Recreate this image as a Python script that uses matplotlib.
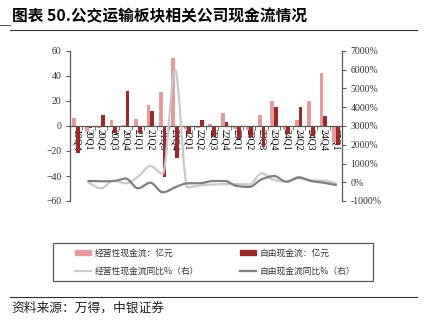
import numpy as np
import matplotlib
matplotlib.use("Agg")
import matplotlib.pyplot as plt
from matplotlib.lines import Line2D
from matplotlib.patches import Patch, Rectangle

plt.rcParams["font.family"] = ["Noto Sans CJK SC", "DejaVu Sans"]

# quarters
quarters = ["19Q4", "20Q1", "20Q2", "20Q3", "20Q4", "21Q1", "21Q2", "21Q3",
            "21Q4", "22Q1", "22Q2", "22Q3", "22Q4", "23Q1", "23Q2", "23Q3",
            "23Q4", "24Q1", "24Q2", "24Q3", "24Q4", "25Q1"]

# cash flow, 亿元
op_cf = [6.5, -5, -1.5, 4.5, 0.5, 5.5, 17, 27.5, 54.5, -2.5, -2, 1.5,
         10, -2.5, -3.5, 9, 20, -3, 4.5, 20, 42, -13]
free_cf = [-22, -1.5, 8.5, -6, 28, -6, 12, -40.5, -25.5, -6.5, 4.8, -9,
           3, -10.5, -8.5, -16.5, 15, -6.5, 15.5, -8, 8.3, -15]

# yoy %, from 20Q1
yoy_quarters = quarters[1:]
op_yoy = [-24, -325, 85, -57, 297, 867, 450, 6000, -270, -170, -120, -100,
          -100, -120, 475, 120, 30, 210, 85, 85, -57]
free_yoy = [67, 50, 60, 200, -325, -24, -537, -270, -57, -57, 67, 67,
            -200, -250, 157, 333, 30, 263, 67, -24, -147]

PINK = "#E39B9B"
DARK = "#9A2A2A"
LGRAY = "#C9C9C9"
DGRAY = "#7F7F7F"
SERIF = "Liberation Serif"


def smooth(x, y, n=24):
    # monotone cubic through the points, only for drawing a smooth line
    x = np.asarray(x, float)
    y = np.asarray(y, float)
    h = np.diff(x)
    d = np.diff(y) / h
    m = np.zeros_like(y)
    m[0], m[-1] = d[0], d[-1]
    for k in range(1, len(y) - 1):
        if d[k - 1] * d[k] > 0:
            w1 = 2 * h[k] + h[k - 1]
            w2 = h[k] + 2 * h[k - 1]
            m[k] = (w1 + w2) / (w1 / d[k - 1] + w2 / d[k])
    xs, ys = [], []
    t = np.linspace(0, 1, n)
    for i in range(len(x) - 1):
        h00 = 2 * t ** 3 - 3 * t ** 2 + 1
        h10 = t ** 3 - 2 * t ** 2 + t
        h01 = -2 * t ** 3 + 3 * t ** 2
        h11 = t ** 3 - t ** 2
        xs.extend(x[i] + t * h[i])
        ys.extend(h00 * y[i] + h10 * h[i] * m[i] + h01 * y[i + 1] + h11 * h[i] * m[i + 1])
    return np.array(xs), np.array(ys)


fig = plt.figure(figsize=(4.27, 3.35), dpi=100)
ax = fig.add_axes([70 / 427, 1 - 201 / 335, 272 / 427, 150 / 335])
ax2 = ax.twinx()

x = np.arange(len(quarters))
w = 0.3
ax.bar(x - w / 2, op_cf, width=w, color=PINK, zorder=2)
ax.bar(x + w / 2, free_cf, width=w, color=DARK, zorder=2)

xl = np.arange(1, len(quarters))
sx, sy = smooth(xl, op_yoy)
ax2.plot(sx, sy, color=LGRAY, lw=1.6)
sx, sy = smooth(xl, free_yoy)
ax2.plot(sx, sy, color=DGRAY, lw=1.6)

ax.set_xlim(-0.5, len(quarters) - 0.5)
ax.set_ylim(-60, 60)
ax.set_yticks(range(-60, 61, 20))
ax2.set_ylim(-1000, 7000)
ax2.set_yticks(range(-1000, 7001, 1000))
ax2.set_yticklabels([f"{v}%" for v in range(-1000, 7001, 1000)])

ax.spines["top"].set_visible(False)
ax2.spines["top"].set_visible(False)
ax2.spines["bottom"].set_visible(False)
ax2.spines["left"].set_visible(False)
ax.spines["right"].set_visible(False)
ax.spines["bottom"].set_position(("data", 0))
for sp in [ax.spines["left"], ax.spines["bottom"], ax2.spines["right"]]:
    sp.set_color("#595959")
    sp.set_linewidth(0.9)

ax.set_xticks(x)
ax.set_xticklabels(quarters, rotation=270, fontfamily=SERIF, fontsize=7)
ax.set_xticks(np.arange(-0.5, len(quarters), 1), minor=True)
ax.tick_params(axis="x", which="major", length=0, pad=2)
ax.tick_params(axis="x", which="minor", length=3, direction="out", color="#595959")
ax.tick_params(axis="y", length=3, color="#595959", labelsize=7, pad=3)
ax2.tick_params(axis="y", length=3, color="#595959", labelsize=7, pad=3)
for lab in ax.get_yticklabels() + ax2.get_yticklabels():
    lab.set_fontfamily(SERIF)
    lab.set_color("#333333")

handles = [
    Patch(color=PINK, label="经营性现金流：亿元"),
    Line2D([], [], color=LGRAY, lw=1.6, label="经营性现金流同比%（右）"),
    Patch(color=DARK, label="自由现金流：亿元"),
    Line2D([], [], color=DGRAY, lw=1.6, label="自由现金流同比%（右）"),
]
leg = fig.legend(handles=handles, ncol=2, loc="center left",
                 bbox_to_anchor=(75 / 427, 1 - 262.5 / 335),
                 fontsize=6.3, frameon=False, handlelength=1.85,
                 handleheight=0.45, handletextpad=0.45, borderpad=0,
                 labelspacing=1.05, columnspacing=4.6, borderaxespad=0)
for t in leg.get_texts():
    t.set_color("#333333")
fig.add_artist(Rectangle((53 / 427, 1 - 281 / 335), 320 / 427, 38 / 335,
                         transform=fig.transFigure, fill=False,
                         edgecolor="#595959", lw=0.9))

fig.text(12 / 427, 1 - 16 / 335, "图表 50.公交运输板块相关公司现金流情况",
         fontsize=11.3, fontweight="bold", va="center", ha="left")
fig.add_artist(Line2D([0, 10 / 427], [1 - 25 / 335, 1 - 25 / 335],
                      color="#555555", lw=0.7))
fig.add_artist(Line2D([10 / 427, 417 / 427], [1 - 30 / 335, 1 - 30 / 335],
                      color="#333333", lw=0.8))
fig.add_artist(Line2D([10 / 427, 417 / 427], [1 - 297 / 335, 1 - 297 / 335],
                      color="#333333", lw=0.8))
fig.text(11 / 427, 1 - 308 / 335, "资料来源：万得，中银证券",
         fontsize=9.2, va="center", ha="left", color="#222222")

fig.savefig("out.png", dpi=100)
